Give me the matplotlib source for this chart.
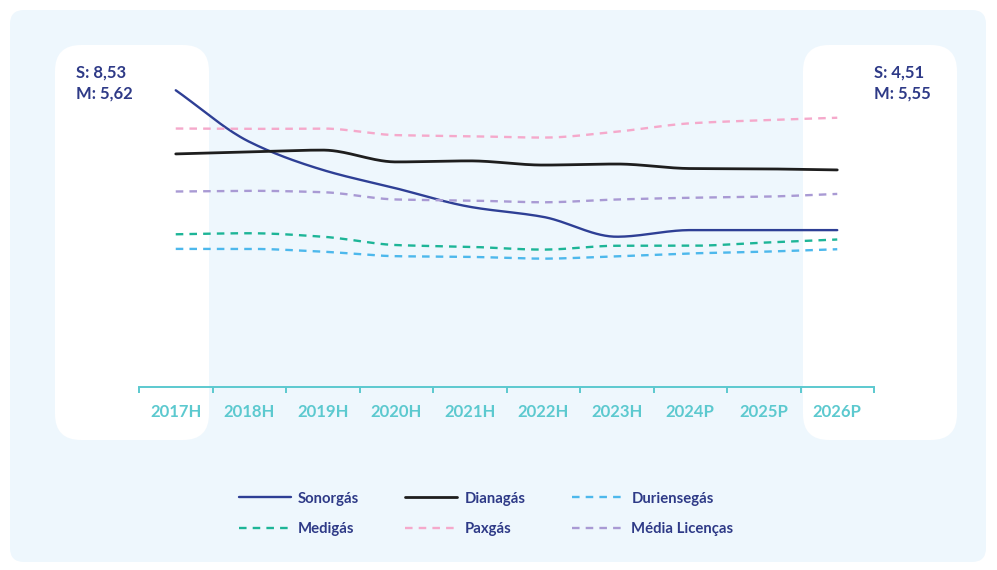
import numpy as np
import matplotlib
matplotlib.use("Agg")
import matplotlib.pyplot as plt
from matplotlib.patches import FancyBboxPatch
from matplotlib.transforms import IdentityTransform

plt.rcParams['font.family'] = ['Lato', 'DejaVu Sans']

categories = ["2017H", "2018H", "2019H", "2020H", "2021H", "2022H",
              "2023H", "2024P", "2025P", "2026P"]
sonorgas = [8.53, 7.05, 6.24, 5.71, 5.18, 4.89, 4.32, 4.51, 4.51, 4.51]
dianagas = [6.70, 6.76, 6.81, 6.47, 6.50, 6.38, 6.41, 6.28, 6.27, 6.24]
duriensegas = [3.97, 3.97, 3.89, 3.76, 3.74, 3.69, 3.76, 3.84, 3.89, 3.96]
medigas = [4.39, 4.42, 4.32, 4.08, 4.03, 3.95, 4.06, 4.06, 4.15, 4.24]
paxgas = [7.43, 7.42, 7.43, 7.24, 7.21, 7.17, 7.34, 7.58, 7.67, 7.74]
media_licencas = [5.62, 5.64, 5.60, 5.39, 5.36, 5.31, 5.39, 5.44, 5.47, 5.55]

left_labels = ["S: 8,53", "M: 5,62"]
right_labels = ["S: 4,51", "M: 5,55"]

NAVY = "#2E3A87"
TEAL = "#5CC9CF"


def smooth(x, y, n=300):
    x = np.asarray(x, float)
    y = np.asarray(y, float)
    h = np.diff(x)
    d = np.diff(y) / h
    m = np.zeros_like(y)
    m[0], m[-1] = d[0], d[-1]
    for i in range(1, len(y) - 1):
        if d[i - 1] * d[i] <= 0:
            m[i] = 0.0
        else:
            m[i] = 2.0 / (1.0 / d[i - 1] + 1.0 / d[i])
    xs = np.linspace(x[0], x[-1], n)
    idx = np.clip(np.searchsorted(x, xs) - 1, 0, len(x) - 2)
    t = (xs - x[idx]) / h[idx]
    h00 = 2 * t**3 - 3 * t**2 + 1
    h10 = t**3 - 2 * t**2 + t
    h01 = -2 * t**3 + 3 * t**2
    h11 = t**3 - t**2
    ys = (h00 * y[idx] + h10 * h[idx] * m[idx] + h01 * y[idx + 1]
          + h11 * h[idx] * m[idx + 1])
    return xs, ys


W, H = 997, 570
fig = plt.figure(figsize=(W / 100, H / 100), dpi=100, facecolor="white")

def px_box(x0, y0, x1, y1, r, color, z):
    p = FancyBboxPatch((x0 + r, H - y1 + r), (x1 - x0) - 2 * r, (y1 - y0) - 2 * r,
                       boxstyle=f"round,pad={r}", transform=IdentityTransform(),
                       facecolor=color, edgecolor="none", zorder=z)
    fig.add_artist(p)

px_box(10, 10, 986, 562, 14, "#EEF7FD", -10)
px_box(55, 45, 209, 440, 26, "#FFFFFF", -9)
px_box(803, 45, 957, 440, 26, "#FFFFFF", -9)

ax = fig.add_axes([139 / W, 1 - 387 / H, (874 - 139) / W, (387 - 60) / H])
ax.set_facecolor("none")
ax.set_xlim(-0.5, 9.5)
ax.set_ylim(0, 9.4)

x = np.arange(len(categories))
series = [
    ("Sonorgás", sonorgas, "#2E3F95", "-", 1.7),
    ("Dianagás", dianagas, "#1E1E1E", "-", 2.0),
    ("Duriensegás", duriensegas, "#4DB8EC", (0, (3.2, 2.6)), 1.7),
    ("Medigás", medigas, "#1DB597", (0, (3.2, 2.6)), 1.7),
    ("Paxgás", paxgas, "#F5A9CB", (0, (3.2, 2.6)), 1.7),
    ("Média Licenças", media_licencas, "#A99AD4", (0, (3.2, 2.6)), 1.7),
]
handles = []
for name, vals, col, ls, lw in series:
    xs, ys = smooth(x, vals)
    ln, = ax.plot(xs, ys, color=col, linestyle=ls, linewidth=lw, label=name,
                  solid_capstyle="round")
    handles.append(ln)

for s in ["top", "right", "left"]:
    ax.spines[s].set_visible(False)
ax.spines["bottom"].set_color(TEAL)
ax.spines["bottom"].set_linewidth(1.4)
ax.set_yticks([])
ax.set_xticks(np.arange(-0.5, 10, 1.0))
ax.set_xticklabels([])
ax.tick_params(axis="x", which="major", direction="out", length=4,
               width=1.4, color=TEAL)
ax.set_xticks(x, minor=True)
ax.set_xticklabels(categories, minor=True)
ax.tick_params(axis="x", which="minor", length=0, pad=12,
               labelsize=12, labelcolor=TEAL)
for lab in ax.get_xticklabels(minor=True):
    lab.set_fontweight("bold")

for i, t in enumerate(left_labels):
    fig.text(76 / W, 1 - (73 + 21 * i) / H, t, color=NAVY, fontsize=12,
             fontweight="bold", va="center", ha="left")
for i, t in enumerate(right_labels):
    fig.text(874 / W, 1 - (73 + 21 * i) / H, t, color=NAVY, fontsize=12,
             fontweight="bold", va="center", ha="left")

order = [0, 3, 1, 4, 2, 5]
leg = fig.legend(handles=[handles[i] for i in order], ncol=3, loc="center",
                 bbox_to_anchor=(486 / W, 1 - 514 / H), frameon=False,
                 handlelength=3.5, handletextpad=0.5, columnspacing=3.1,
                 labelspacing=1.12, prop={"weight": "bold", "size": 10.7})
for t in leg.get_texts():
    t.set_color(NAVY)

fig.savefig("out.png", dpi=100, facecolor="white")
